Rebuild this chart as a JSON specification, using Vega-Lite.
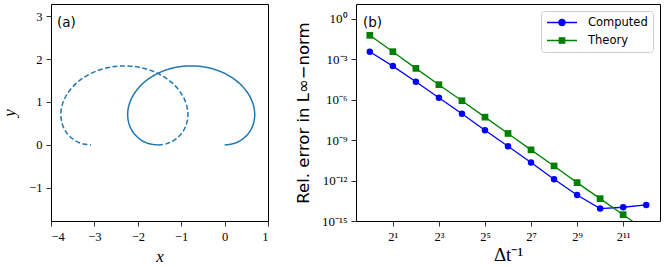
{
  "$schema": "https://vega.github.io/schema/vega-lite/v6.json",
  "autosize": {"type": "none"},
  "padding": {"left": 51, "top": 4, "right": 614, "bottom": 263},
  "background": "white",
  "config": {
    "view": {"stroke": "black", "strokeWidth": 1},
    "axis": {
      "domain": false, "grid": false, "tickSize": 5, "tickColor": "black", "tickWidth": 0.8,
      "labelFont": "Liberation Serif", "labelFontSize": 12.5, "labelColor": "black", "labelPadding": 4,
      "titleFont": "Liberation Serif", "titleFontWeight": "normal", "titleColor": "black", "titleFontSize": 17
    },
    "title": {"font": "DejaVu Sans", "fontSize": 13.5, "fontWeight": "normal", "color": "black", "anchor": "start", "frame": "group", "offset": -25}
  },
  "bounds": "flush",
  "spacing": 88,
  "resolve": {"scale": {"color": "independent", "shape": "independent", "stroke": "independent", "strokeDash": "independent"}},
  "hconcat": [
    {
      "width": 217, "height": 217,
      "title": {"text": "(a)", "dx": 6},
      "data": {"values": [
        {"style": "solid", "i": 0, "x": 0, "y": 0},
        {"style": "solid", "i": 1, "x": 0.2076, "y": 0.0314},
        {"style": "solid", "i": 2, "x": 0.3967, "y": 0.1233},
        {"style": "solid", "i": 3, "x": 0.5501, "y": 0.2695},
        {"style": "solid", "i": 4, "x": 0.6527, "y": 0.46},
        {"style": "solid", "i": 5, "x": 0.6935, "y": 0.6819},
        {"style": "solid", "i": 6, "x": 0.6652, "y": 0.92},
        {"style": "solid", "i": 7, "x": 0.5652, "y": 1.1581},
        {"style": "solid", "i": 8, "x": 0.3962, "y": 1.38},
        {"style": "solid", "i": 9, "x": 0.1652, "y": 1.5705},
        {"style": "solid", "i": 10, "x": -0.1164, "y": 1.7167},
        {"style": "solid", "i": 11, "x": -0.4339, "y": 1.8086},
        {"style": "solid", "i": 12, "x": -0.7697, "y": 1.84},
        {"style": "solid", "i": 13, "x": -1.1055, "y": 1.8086},
        {"style": "solid", "i": 14, "x": -1.423, "y": 1.7167},
        {"style": "solid", "i": 15, "x": -1.7046, "y": 1.5705},
        {"style": "solid", "i": 16, "x": -1.9356, "y": 1.38},
        {"style": "solid", "i": 17, "x": -2.1046, "y": 1.1581},
        {"style": "solid", "i": 18, "x": -2.2045, "y": 0.92},
        {"style": "solid", "i": 19, "x": -2.2329, "y": 0.6819},
        {"style": "solid", "i": 20, "x": -2.1921, "y": 0.46},
        {"style": "solid", "i": 21, "x": -2.0895, "y": 0.2695},
        {"style": "solid", "i": 22, "x": -1.9361, "y": 0.1233},
        {"style": "solid", "i": 23, "x": -1.747, "y": 0.0314},
        {"style": "solid", "i": 24, "x": -1.5394, "y": 0},
        {"style": "dashed", "i": 0, "x": -1.5394, "y": 0},
        {"style": "dashed", "i": 1, "x": -1.3318, "y": 0.0314},
        {"style": "dashed", "i": 2, "x": -1.1427, "y": 0.1233},
        {"style": "dashed", "i": 3, "x": -0.9893, "y": 0.2695},
        {"style": "dashed", "i": 4, "x": -0.8867, "y": 0.46},
        {"style": "dashed", "i": 5, "x": -0.8459, "y": 0.6819},
        {"style": "dashed", "i": 6, "x": -0.8742, "y": 0.92},
        {"style": "dashed", "i": 7, "x": -0.9742, "y": 1.1581},
        {"style": "dashed", "i": 8, "x": -1.1432, "y": 1.38},
        {"style": "dashed", "i": 9, "x": -1.3742, "y": 1.5705},
        {"style": "dashed", "i": 10, "x": -1.6558, "y": 1.7167},
        {"style": "dashed", "i": 11, "x": -1.9733, "y": 1.8086},
        {"style": "dashed", "i": 12, "x": -2.3091, "y": 1.84},
        {"style": "dashed", "i": 13, "x": -2.6449, "y": 1.8086},
        {"style": "dashed", "i": 14, "x": -2.9624, "y": 1.7167},
        {"style": "dashed", "i": 15, "x": -3.244, "y": 1.5705},
        {"style": "dashed", "i": 16, "x": -3.475, "y": 1.38},
        {"style": "dashed", "i": 17, "x": -3.644, "y": 1.1581},
        {"style": "dashed", "i": 18, "x": -3.7439, "y": 0.92},
        {"style": "dashed", "i": 19, "x": -3.7723, "y": 0.6819},
        {"style": "dashed", "i": 20, "x": -3.7315, "y": 0.46},
        {"style": "dashed", "i": 21, "x": -3.6289, "y": 0.2695},
        {"style": "dashed", "i": 22, "x": -3.4755, "y": 0.1233},
        {"style": "dashed", "i": 23, "x": -3.2864, "y": 0.0314},
        {"style": "dashed", "i": 24, "x": -3.0788, "y": 0}
      ]},
      "mark": {"type": "line", "color": "#1f77b4", "strokeWidth": 1.5, "interpolate": "catmull-rom", "clip": true},
      "encoding": {
        "x": {"field": "x", "type": "quantitative", "scale": {"domain": [-4, 1], "nice": false, "zero": false},
              "axis": {"values": [-4, -3, -2, -1, 0, 1], "title": "x", "titleFontStyle": "italic", "titlePadding": 6}},
        "y": {"field": "y", "type": "quantitative", "scale": {"domain": [-1.77, 3.28], "nice": false, "zero": false},
              "axis": {"values": [-1, 0, 1, 2, 3], "title": "y", "titleFontStyle": "italic", "titlePadding": 10}},
        "order": {"field": "i", "type": "quantitative"},
        "strokeDash": {"field": "style", "type": "nominal", "scale": {"domain": ["solid", "dashed"], "range": [[1, 0], [5, 2.5]]}, "legend": null}
      }
    },
    {
      "width": 304, "height": 217,
      "title": {"text": "(b)", "dx": 7},
      "data": {"values": [
        {"N": 1, "series": "Computed", "err": 0.00372},
        {"N": 2, "series": "Computed", "err": 0.000316},
        {"N": 4, "series": "Computed", "err": 2.19e-5},
        {"N": 8, "series": "Computed", "err": 1.41e-6},
        {"N": 16, "series": "Computed", "err": 9.12e-8},
        {"N": 32, "series": "Computed", "err": 5.5e-9},
        {"N": 64, "series": "Computed", "err": 3.55e-10},
        {"N": 128, "series": "Computed", "err": 2.19e-11},
        {"N": 256, "series": "Computed", "err": 1.26e-12},
        {"N": 512, "series": "Computed", "err": 8.51e-14},
        {"N": 1024, "series": "Computed", "err": 8.32e-15},
        {"N": 2048, "series": "Computed", "err": 1.05e-14},
        {"N": 4096, "series": "Computed", "err": 1.55e-14},
        {"N": 1, "series": "Theory", "err": 0.061},
        {"N": 2, "series": "Theory", "err": 0.00372},
        {"N": 4, "series": "Theory", "err": 0.000214},
        {"N": 8, "series": "Theory", "err": 1.32e-5},
        {"N": 16, "series": "Theory", "err": 8.51e-7},
        {"N": 32, "series": "Theory", "err": 5.13e-8},
        {"N": 64, "series": "Theory", "err": 3.16e-9},
        {"N": 128, "series": "Theory", "err": 1.91e-10},
        {"N": 256, "series": "Theory", "err": 1.23e-11},
        {"N": 512, "series": "Theory", "err": 7.08e-13},
        {"N": 1024, "series": "Theory", "err": 4.57e-14},
        {"N": 2048, "series": "Theory", "err": 2.95e-15},
        {"N": 4096, "series": "Theory", "err": 1.86e-16}
      ]},
      "encoding": {
        "x": {"field": "N", "type": "quantitative", "scale": {"type": "log", "base": 2, "domain": [0.6598, 6208], "nice": false},
              "axis": {"values": [2, 8, 32, 128, 512, 2048], "title": "Δt⁻¹", "titleFontSize": 19, "titlePadding": 3,
                       "labelExpr": "datum.value == 2 ? '2¹' : datum.value == 8 ? '2³' : datum.value == 32 ? '2⁵' : datum.value == 128 ? '2⁷' : datum.value == 512 ? '2⁹' : '2¹¹'"}},
        "y": {"field": "err", "type": "quantitative", "scale": {"type": "log", "domain": [1e-15, 12.9], "nice": false},
              "axis": {"values": [1, 0.001, 1e-6, 1e-9, 1e-12, 1e-15], "title": "Rel. error in L∞−norm", "titleFont": "DejaVu Sans", "titleFontSize": 16.5, "titlePadding": 10,
                       "labelFontSize": 13,
                       "labelExpr": "'10' + ['⁰','⁻³','⁻⁶','⁻⁹','⁻¹²','⁻¹⁵'][round(-log(datum.value)/LN10/3)]"}},
        "color": {"field": "series", "type": "nominal", "scale": {"domain": ["Computed", "Theory"], "range": ["#0000ff", "#008000"]},
                  "legend": {
                    "orient": "top-right", "offset": 7, "title": null,
                    "labelFont": "DejaVu Sans", "labelFontSize": 11.5, "labelColor": "black",
                    "strokeColor": "#cccccc", "fillColor": "white", "padding": 5, "cornerRadius": 3,
                    "symbolSize": 900, "symbolStrokeWidth": 1.3, "labelOffset": 10, "rowPadding": 5, "clipHeight": 13
                  }}
      },
      "layer": [
        {"mark": {"type": "line", "strokeWidth": 1.3, "clip": true}},
        {"transform": [{"filter": "datum.series === 'Computed'"}],
         "mark": {"type": "point", "shape": "circle", "filled": true, "opacity": 1, "size": 42, "clip": true}},
        {"transform": [{"filter": "datum.series === 'Theory'"}],
         "mark": {"type": "point", "shape": "square", "filled": true, "opacity": 1, "size": 45, "clip": true}},
        {"transform": [{"filter": "false"}],
         "mark": {"type": "point", "filled": true, "opacity": 1, "strokeWidth": 1.3},
         "encoding": {
           "shape": {"field": "series", "type": "nominal",
                     "scale": {"domain": ["Computed", "Theory"], "range": ["M-1,0L1,0M-0.2,0A0.2,0.2,0,1,0,0.2,0A0.2,0.2,0,1,0,-0.2,0Z", "M-1,0L1,0M-0.18,-0.18L0.18,-0.18L0.18,0.18L-0.18,0.18Z"]}},
           "stroke": {"field": "series", "type": "nominal", "scale": {"domain": ["Computed", "Theory"], "range": ["#0000ff", "#008000"]}}
         }}
      ]
    }
  ]
}
